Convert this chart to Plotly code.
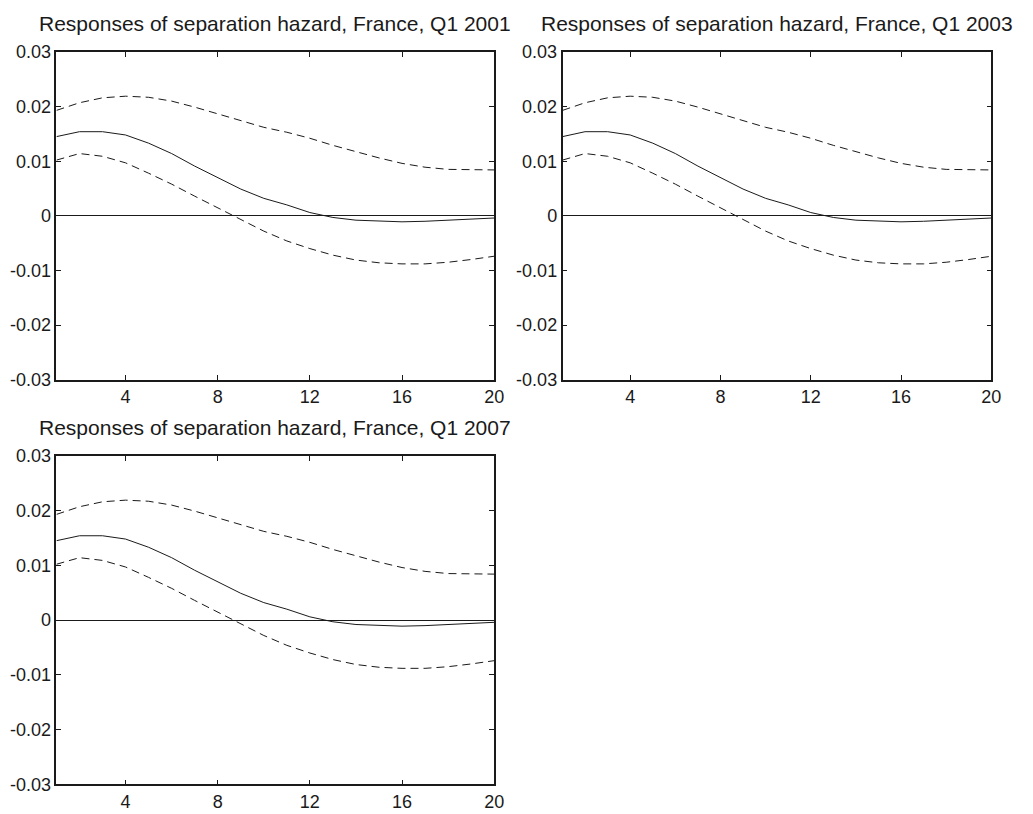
import plotly.graph_objects as go

horizon = list(range(1, 21))

response = [0.0145, 0.0154, 0.0154, 0.0148, 0.0133, 0.0114, 0.0091, 0.0070, 0.0049, 0.0032,
            0.0020, 0.0006, -0.0003, -0.0008, -0.0010, -0.0011, -0.0010, -0.0008, -0.0006, -0.0004]
upper_band = [0.0193, 0.0207, 0.0216, 0.0219, 0.0217, 0.0210, 0.0199, 0.0187, 0.0174, 0.0162,
              0.0153, 0.0142, 0.0129, 0.0117, 0.0106, 0.0096, 0.0089, 0.0085, 0.0084, 0.0084]
lower_band = [0.0102, 0.0114, 0.0109, 0.0097, 0.0078, 0.0058, 0.0036, 0.0015, -0.0007, -0.0028,
              -0.0046, -0.0060, -0.0072, -0.0081, -0.0086, -0.0088, -0.0088, -0.0085, -0.0080, -0.0074]

panel_titles = ["Responses of separation hazard, France, Q1 2001",
                "Responses of separation hazard, France, Q1 2003",
                "Responses of separation hazard, France, Q1 2007"]

x_tick_vals = [4, 8, 12, 16, 20]
x_tick_text = ["4", "8", "12", "16", "20"]
y_tick_vals = [-0.03, -0.02, -0.01, 0, 0.01, 0.02, 0.03]
y_tick_text = ["-0.03", "-0.02", "-0.01", "0", "0.01", "0.02", "0.03"]

W, H = 1033, 814
# plot areas in pixels: (left, right, top, bottom)
boxes = [(57, 499, 43, 379), (568, 1001, 43, 379), (57, 499, 457, 794)]

fig = go.Figure()
font_family = "Liberation Sans, Arial, Helvetica, sans-serif"
ink = "#1a1a1a"

for i, (l, r, t, b) in enumerate(boxes):
    n = "" if i == 0 else str(i + 1)
    xa, ya = "x" + n, "y" + n
    fig.add_trace(go.Scatter(x=horizon, y=upper_band, mode="lines", xaxis=xa, yaxis=ya,
                             line=dict(color=ink, width=1, dash="8px,5px"), showlegend=False))
    fig.add_trace(go.Scatter(x=horizon, y=lower_band, mode="lines", xaxis=xa, yaxis=ya,
                             line=dict(color=ink, width=1, dash="8px,5px"), showlegend=False))
    fig.add_trace(go.Scatter(x=horizon, y=response, mode="lines", xaxis=xa, yaxis=ya,
                             line=dict(color=ink, width=1), showlegend=False))
    axis_common = dict(showline=True, linecolor=ink, linewidth=1.5, mirror="ticks",
                       ticks="inside", ticklen=5, tickcolor=ink, tickwidth=1,
                       showgrid=False,
                       tickfont=dict(family=font_family, size=18, color=ink))
    fig.layout["xaxis" + n] = dict(domain=[l / W, r / W], range=[1, 20], anchor=ya,
                                   tickvals=x_tick_vals, ticktext=x_tick_text,
                                   zeroline=False, **axis_common)
    fig.layout["yaxis" + n] = dict(domain=[1 - b / H, 1 - t / H], range=[-0.03, 0.03], anchor=xa,
                                   tickvals=y_tick_vals, ticktext=y_tick_text,
                                   zeroline=True, zerolinecolor=ink, zerolinewidth=1,
                                   **axis_common)
    fig.add_annotation(text=panel_titles[i], xref="paper", yref="paper",
                       x=(l + r) / 2 / W, y=1 - t / H, xanchor="center", yanchor="bottom",
                       yshift=15, showarrow=False,
                       font=dict(family=font_family, size=21, color=ink))

fig.update_layout(width=W, height=H, margin=dict(l=0, r=0, t=0, b=0),
                  paper_bgcolor="white", plot_bgcolor="white", showlegend=False)

fig.write_html("out.html")
